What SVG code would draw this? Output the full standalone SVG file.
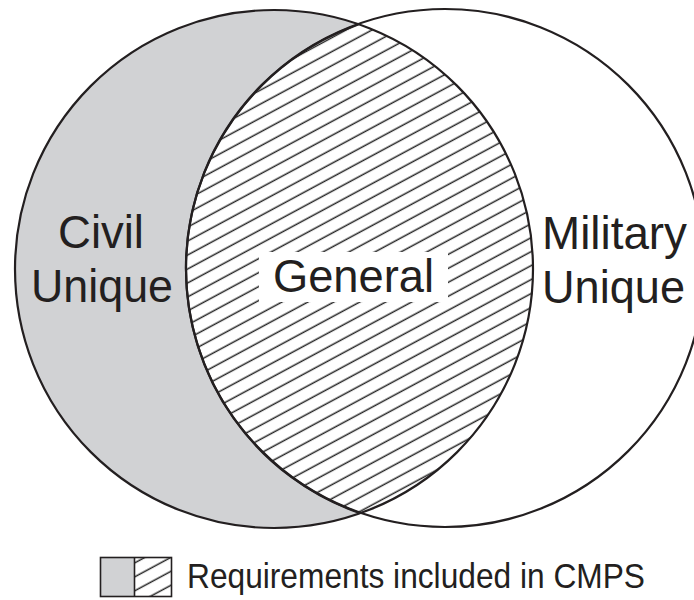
<svg xmlns="http://www.w3.org/2000/svg" width="694" height="600" viewBox="0 0 694 600">
  <style>
    .outline { fill: none; stroke: #231f20; stroke-width: 2.2; }
    .label { font-family: "Liberation Sans", Arial, sans-serif; fill: #231f20; text-anchor: middle; }
    .big { font-size: 47px; }
  </style>
  <defs>
    <pattern id="hatch" patternUnits="userSpaceOnUse" width="20" height="12.3" patternTransform="rotate(-28.3)">
      <rect x="0" y="0" width="20" height="12.3" fill="#ffffff"/>
      <line x1="-1" y1="6" x2="21" y2="6" stroke="#262626" stroke-width="1.5"/>
    </pattern>
  </defs>
  <rect x="0" y="0" width="694" height="600" fill="#ffffff"/>

  <g id="civil-unique">
    <circle cx="274" cy="269" r="259" fill="#d1d2d4"/>
  </g>

  <g id="general">
    <path d="M 359.5 24 A 259 259 0 0 1 359.5 513 A 259 259 0 0 1 359.5 24 Z" fill="url(#hatch)"/>
    <rect x="259" y="252" width="189" height="50" fill="#ffffff"/>
    <text class="label" x="353.5" y="292" font-size="47" textLength="161" lengthAdjust="spacingAndGlyphs">General</text>
  </g>

  <g id="outlines">
    <circle class="outline" cx="274" cy="269" r="259"/>
    <circle class="outline" cx="445" cy="268" r="259"/>
    <path class="outline" d="M 359.5 24 A 259 259 0 0 0 359.5 513" stroke-width="3.2"/>
  </g>

  <g id="civil-label">
    <text class="label big" x="101" y="248" textLength="86" lengthAdjust="spacingAndGlyphs">Civil</text>
    <text class="label big" x="102" y="302" textLength="142" lengthAdjust="spacingAndGlyphs">Unique</text>
  </g>

  <g id="military-unique">
    <text class="label big" x="614.5" y="249" textLength="145" lengthAdjust="spacingAndGlyphs">Military</text>
    <text class="label big" x="613.5" y="303" textLength="143" lengthAdjust="spacingAndGlyphs">Unique</text>
  </g>

  <g id="legend">
    <rect x="100.5" y="557.5" width="34" height="39" fill="#d1d2d4"/>
    <rect x="134.5" y="557.5" width="37" height="39" fill="url(#hatch)"/>
    <rect x="100.5" y="557.5" width="71" height="39" fill="none" stroke="#231f20" stroke-width="1.6"/>
    <line x1="134.5" y1="557.5" x2="134.5" y2="596.5" stroke="#231f20" stroke-width="1.6"/>
    <text x="187" y="588" font-family="'Liberation Sans', Arial, sans-serif" font-size="35" fill="#231f20" textLength="458" lengthAdjust="spacingAndGlyphs">Requirements included in CMPS</text>
  </g>
</svg>
